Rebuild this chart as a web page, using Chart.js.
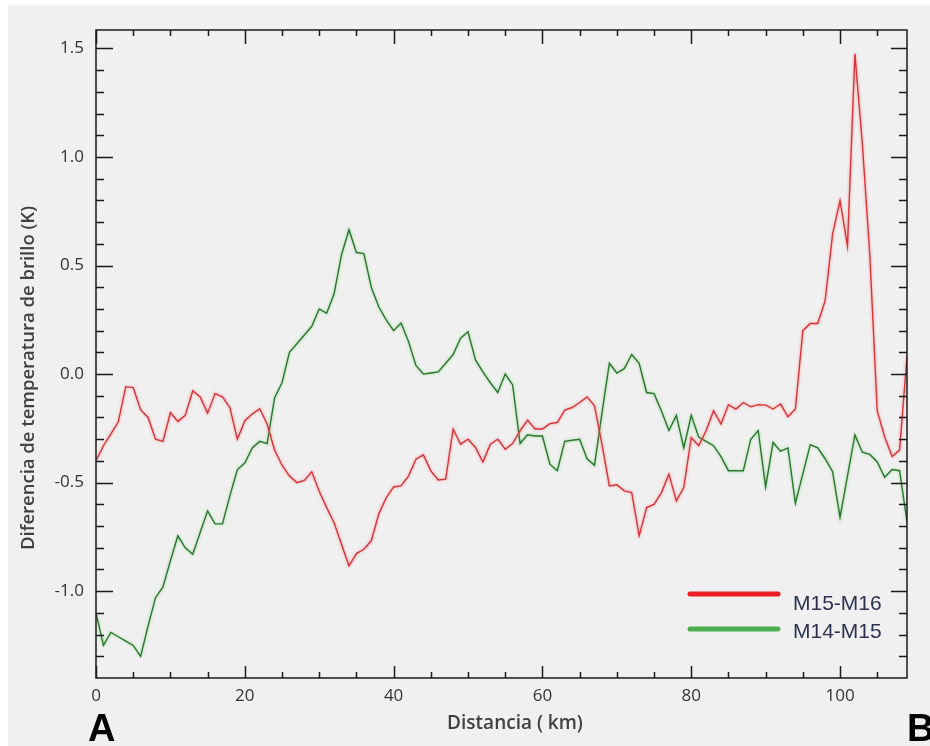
<!DOCTYPE html>
<html>
<head>
<meta charset="utf-8">
<script src="https://cdn.jsdelivr.net/npm/chart.js@4.4.1/dist/chart.umd.min.js"></script>
<style>
  html, body { margin: 0; padding: 0; background: #ffffff; }
  #bg { position: absolute; left: 8px; top: 5px; width: 922px; height: 741px; background: #f0f0f0; }
  #wrap { position: absolute; left: 0; top: 0; width: 930px; height: 746px; }
</style>
</head>
<body>
<div id="bg"></div>
<div id="wrap"><canvas id="c" width="930" height="746"></canvas></div>
<script>
// Distance along profile A-B (km)
const distance = [0,1,2,3,4,5,6,7,8,9,10,11,12,13,14,15,16,17,18,19,20,21,22,23,24,25,26,27,28,29,30,31,32,33,34,35,36,37,38,39,40,41,42,43,44,45,46,47,48,49,50,51,52,53,54,55,56,57,58,59,60,61,62,63,64,65,66,67,68,69,70,71,72,73,74,75,76,77,78,79,80,81,82,83,84,85,86,87,88,89,90,91,92,93,94,95,96,97,98,99,100,101,102,103,104,105,106,107,108,109];

// M15-M16 brightness temperature difference (K)
const m15m16 = [-0.40,-0.33,-0.275,-0.22,-0.058,-0.062,-0.165,-0.20,-0.30,-0.31,
  -0.177,-0.218,-0.19,-0.077,-0.105,-0.18,-0.09,-0.105,-0.155,-0.30,
  -0.215,-0.184,-0.16,-0.23,-0.35,-0.42,-0.47,-0.50,-0.49,-0.45,
  -0.54,-0.615,-0.685,-0.785,-0.883,-0.827,-0.807,-0.768,-0.645,-0.57,
  -0.52,-0.515,-0.47,-0.392,-0.372,-0.446,-0.488,-0.484,-0.253,-0.323,
  -0.30,-0.338,-0.405,-0.323,-0.30,-0.346,-0.32,-0.261,-0.212,-0.253,
  -0.253,-0.228,-0.223,-0.166,-0.154,-0.131,-0.105,-0.146,-0.323,-0.515,
  -0.51,-0.538,-0.546,-0.745,-0.615,-0.60,-0.546,-0.461,-0.584,-0.523,
  -0.292,-0.33,-0.261,-0.169,-0.23,-0.141,-0.161,-0.131,-0.151,-0.141,
  -0.143,-0.161,-0.138,-0.197,-0.161,0.20,0.233,0.233,0.338,0.645,
  0.80,0.59,1.475,1.06,0.55,-0.17,-0.29,-0.38,-0.35,0.08];

// M14-M15 brightness temperature difference (K)
const m14m15 = [-1.10,-1.25,-1.19,-1.21,-1.23,-1.25,-1.30,-1.16,-1.03,-0.98,
  -0.86,-0.745,-0.80,-0.83,-0.73,-0.63,-0.69,-0.69,-0.56,-0.44,
  -0.41,-0.34,-0.31,-0.32,-0.11,-0.04,0.10,0.14,0.18,0.22,
  0.30,0.28,0.37,0.55,0.665,0.56,0.555,0.40,0.31,0.25,
  0.20,0.235,0.15,0.04,0.00,0.005,0.01,0.05,0.09,0.165,
  0.195,0.065,0.01,-0.04,-0.085,0.00,-0.05,-0.32,-0.28,-0.285,
  -0.285,-0.415,-0.445,-0.31,-0.305,-0.30,-0.39,-0.42,-0.18,0.05,
  0.005,0.025,0.09,0.05,-0.085,-0.09,-0.17,-0.26,-0.19,-0.34,
  -0.19,-0.29,-0.31,-0.33,-0.38,-0.445,-0.445,-0.445,-0.30,-0.26,
  -0.52,-0.315,-0.355,-0.34,-0.595,-0.46,-0.325,-0.34,-0.39,-0.45,
  -0.66,-0.47,-0.28,-0.36,-0.37,-0.405,-0.475,-0.44,-0.445,-0.68];

const seriesNames = ['M15-M16', 'M14-M15'];
const yTickValues = [-1.0, -0.5, 0.0, 0.5, 1.0, 1.5];
const xTickValues = [0, 20, 40, 60, 80, 100];
const xTitle = 'Distancia ( km)';
const yTitle = 'Diferencia de temperatura de brillo (K)';

const lineColors = ['#d6343a', '#2c7430'];
const glowColors = ['rgba(255,110,110,0.75)', 'rgba(110,210,110,0.75)'];
const legendColors = ['#ee1c24', '#4caf50'];

const toXY = (vals) => distance.map((d, i) => ({ x: d, y: vals[i] }));

const framePlugin = {
  id: 'frame',
  beforeDatasetDraw(chart, args) {
    const ctx = chart.ctx;
    ctx.save();
    ctx.shadowColor = glowColors[args.index];
    ctx.shadowBlur = 3;
  },
  afterDatasetDraw(chart) {
    chart.ctx.restore();
  },
  afterDraw(chart) {
    const ctx = chart.ctx;
    const { left, top, right, bottom } = chart.chartArea;
    const xs = chart.scales.x, ys = chart.scales.y;
    ctx.save();
    ctx.strokeStyle = '#1a1a1a';
    ctx.lineWidth = 1.5;
    ctx.strokeRect(left, top, right - left, bottom - top);
    ctx.beginPath();
    for (let v = 0; v <= xs.max; v += 5) {
      const px = Math.round(xs.getPixelForValue(v)) + 0.5;
      const major = v % 20 === 0;
      ctx.moveTo(px, bottom); ctx.lineTo(px, bottom - (major ? 12 : 6));
      ctx.moveTo(px, top); ctx.lineTo(px, top + (major ? 14 : 6));
    }
    for (let k = -13; k <= 15; k++) {
      const v = k / 10;
      const py = Math.round(ys.getPixelForValue(v)) + 0.5;
      const major = k % 5 === 0;
      ctx.moveTo(left, py); ctx.lineTo(left + (major ? 17 : 8), py);
      ctx.moveTo(right, py); ctx.lineTo(right - (major ? 16 : 8), py);
    }
    ctx.stroke();

    // axis titles
    ctx.fillStyle = '#404040';
    ctx.font = '600 19px "Open Sans", sans-serif';
    ctx.textAlign = 'center';
    ctx.textBaseline = 'alphabetic';
    ctx.fillText(xTitle, 515, 729);
    ctx.save();
    ctx.translate(34, 378);
    ctx.rotate(-Math.PI / 2);
    ctx.font = '600 18.5px "Open Sans", sans-serif';
    ctx.fillText(yTitle, 0, 0);
    ctx.restore();

    // legend
    const lx0 = 690, lx1 = 778;
    const ly = [594, 629];
    const ty = [610, 638];
    ctx.lineCap = 'round';
    ctx.lineWidth = 5;
    chart.data.datasets.forEach((ds, i) => {
      ctx.strokeStyle = legendColors[i];
      ctx.beginPath();
      ctx.moveTo(lx0, ly[i]); ctx.lineTo(lx1, ly[i]);
      ctx.stroke();
      ctx.fillStyle = '#2b3350';
      ctx.font = '21px "Liberation Sans", Arial, sans-serif';
      ctx.textBaseline = 'alphabetic';
      ctx.textAlign = 'left';
      ctx.fillText(ds.label, 793, ty[i]);
    });

    // endpoint letters
    ctx.fillStyle = '#000';
    ctx.font = 'bold 38px "Liberation Sans", Arial, sans-serif';
    ctx.textBaseline = 'alphabetic';
    ctx.textAlign = 'left';
    ctx.fillText('A', 88, 741);
    ctx.fillText('B', 907, 741);
    ctx.restore();
  }
};

new Chart(document.getElementById('c'), {
  type: 'line',
  data: {
    datasets: [
      { label: seriesNames[0], data: toXY(m15m16), borderColor: lineColors[0], borderWidth: 1.4, pointRadius: 0, tension: 0, fill: false },
      { label: seriesNames[1], data: toXY(m14m15), borderColor: lineColors[1], borderWidth: 1.4, pointRadius: 0, tension: 0, fill: false }
    ]
  },
  options: {
    responsive: false,
    animation: false,
    events: [],
    layout: { padding: { top: 30, right: 23, left: 0, bottom: 0 } },
    plugins: { legend: { display: false }, tooltip: { enabled: false } },
    scales: {
      x: {
        type: 'linear', min: 0, max: 109,
        afterFit: (s) => { s.height = 68; },
        afterBuildTicks: (s) => { s.ticks = xTickValues.map(v => ({ value: v })); },
        grid: { display: true, drawOnChartArea: false, drawTicks: false },
        border: { display: false },
        ticks: { padding: 8, color: '#333', font: { family: '"Open Sans", sans-serif', size: 17 }, maxRotation: 0 },
        title: { display: false }
      },
      y: {
        type: 'linear', min: -1.40, max: 1.585,
        afterFit: (s) => { s.width = 96; },
        afterBuildTicks: (s) => { s.ticks = yTickValues.map(v => ({ value: v })); },
        grid: { display: true, drawOnChartArea: false, drawTicks: false },
        border: { display: false },
        ticks: { padding: 12, color: '#333', font: { family: '"Open Sans", sans-serif', size: 17 }, callback: (v) => Number(v).toFixed(1) },
        title: { display: false }
      }
    }
  },
  plugins: [framePlugin]
});
</script>
</body>
</html>
